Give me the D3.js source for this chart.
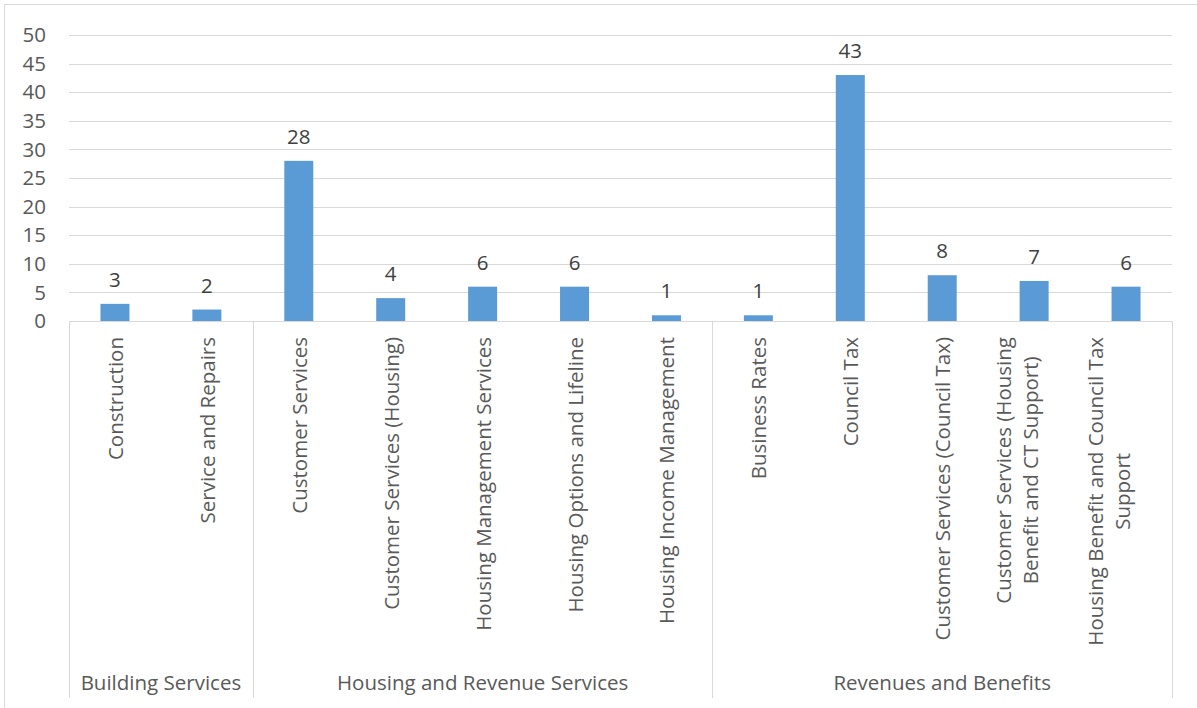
<!DOCTYPE html>
<html>
<head>
<meta charset="utf-8">
<script src="https://cdn.jsdelivr.net/npm/d3@7"></script>
<style>
  body { margin: 0; background: #fff; }
  svg { display: block; font-family: "Open Sans", sans-serif; }
</style>
</head>
<body>
<svg id="chart" width="1197" height="708"></svg>
<script>
// data
var categories = [
  "Construction", "Service and Repairs",
  "Customer Services", "Customer Services (Housing)", "Housing Management Services",
  "Housing Options and Lifeline", "Housing Income Management",
  "Business Rates", "Council Tax", "Customer Services (Council Tax)",
  "Customer Services (Housing|Benefit and CT Support)", "Housing Benefit and Council Tax|Support"
];
var values = [3, 2, 28, 4, 6, 6, 1, 1, 43, 8, 7, 6];
var groups = ["Building Services", "Housing and Revenue Services", "Revenues and Benefits"];
var groupSizes = [2, 5, 5];
var yTicks = [0, 5, 10, 15, 20, 25, 30, 35, 40, 45, 50];

var svg = d3.select("#chart");
var plotL = 69, plotR = 1172, plotT = 35, base = 321, plotB = 698;
var gridCol = "#d9d9d9", textCol = "#595959";
var fs = 20.5;

// outer frame (right and bottom edges run off the picture)
svg.append("rect")
   .attr("x", 4.5).attr("y", 4.5)
   .attr("width", 1200).attr("height", 710)
   .attr("fill", "#fff").attr("stroke", gridCol);

var x = d3.scaleBand().domain(d3.range(categories.length)).range([plotL, plotR]);
var y = d3.scaleLinear().domain([0, 50]).range([base, plotT]);

// gridlines
svg.append("g").selectAll("line").data(yTicks.slice(1)).enter().append("line")
   .attr("x1", plotL).attr("x2", plotR)
   .attr("y1", function(d) { return Math.round(y(d)) + 0.5; })
   .attr("y2", function(d) { return Math.round(y(d)) + 0.5; })
   .attr("stroke", gridCol).attr("stroke-width", 1);

// y labels
svg.append("g").selectAll("text").data(yTicks).enter().append("text")
   .attr("x", 46).attr("y", function(d) { return y(d); })
   .attr("dy", "0.35em")
   .attr("text-anchor", "end")
   .attr("fill", textCol).attr("font-size", fs)
   .text(function(d) { return d; });

// bars
var bw = 29;
svg.append("g").selectAll("rect").data(values).enter().append("rect")
   .attr("x", function(d, i) { return x(i) + x.bandwidth() / 2 - bw / 2; })
   .attr("y", function(d) { return y(d); })
   .attr("width", bw)
   .attr("height", function(d) { return base - y(d); })
   .attr("fill", "#5b9bd5");

// value labels
svg.append("g").selectAll("text").data(values).enter().append("text")
   .attr("x", function(d, i) { return x(i) + x.bandwidth() / 2; })
   .attr("y", function(d) { return y(d) - 24; })
   .attr("dy", "0.35em")
   .attr("text-anchor", "middle")
   .attr("fill", "#404040").attr("font-size", fs)
   .text(function(d) { return d; });

// axis line + group separators
svg.append("line").attr("x1", plotL).attr("x2", plotR)
   .attr("y1", base + 0.5).attr("y2", base + 0.5)
   .attr("stroke", gridCol);

var bounds = [0];
groupSizes.forEach(function(n) { bounds.push(bounds[bounds.length - 1] + n); });
function boundX(b) { return b < categories.length ? x(b) : plotR; }
svg.append("g").selectAll("line").data(bounds).enter().append("line")
   .attr("x1", function(b) { return Math.round(boundX(b)) + 0.5; })
   .attr("x2", function(b) { return Math.round(boundX(b)) + 0.5; })
   .attr("y1", base).attr("y2", plotB)
   .attr("stroke", gridCol);

// category labels (rotated, lines centred on the longest one)
var labelTop = 337;
categories.forEach(function(c, i) {
    var lines = c.split("|");
    var cx = x(i) + x.bandwidth() / 2;
    var g = svg.append("g");
    var texts = lines.map(function(t, j) {
        var off = lines.length === 1 ? 0 : (j === 0 ? -31 : -4);
        return g.append("text")
                .attr("text-anchor", "middle")
                .attr("dominant-baseline", "central")
                .attr("fill", textCol).attr("font-size", fs)
                .attr("data-x", cx + off)
                .text(t);
    });
    var maxLen = d3.max(texts, function(t) { return t.node().getComputedTextLength(); });
    texts.forEach(function(t) {
        var tx = +t.attr("data-x"), ty = labelTop + maxLen / 2;
        t.attr("transform", "translate(" + tx + "," + ty + ") rotate(-90)");
    });
});

// group labels
svg.append("g").selectAll("text").data(groups).enter().append("text")
   .attr("x", function(d, i) { return (x(bounds[i]) + boundX(bounds[i + 1])) / 2; })
   .attr("y", 683).attr("dy", "0.35em")
   .attr("text-anchor", "middle")
   .attr("fill", textCol).attr("font-size", fs)
   .text(function(d) { return d; });
</script>
</body>
</html>
